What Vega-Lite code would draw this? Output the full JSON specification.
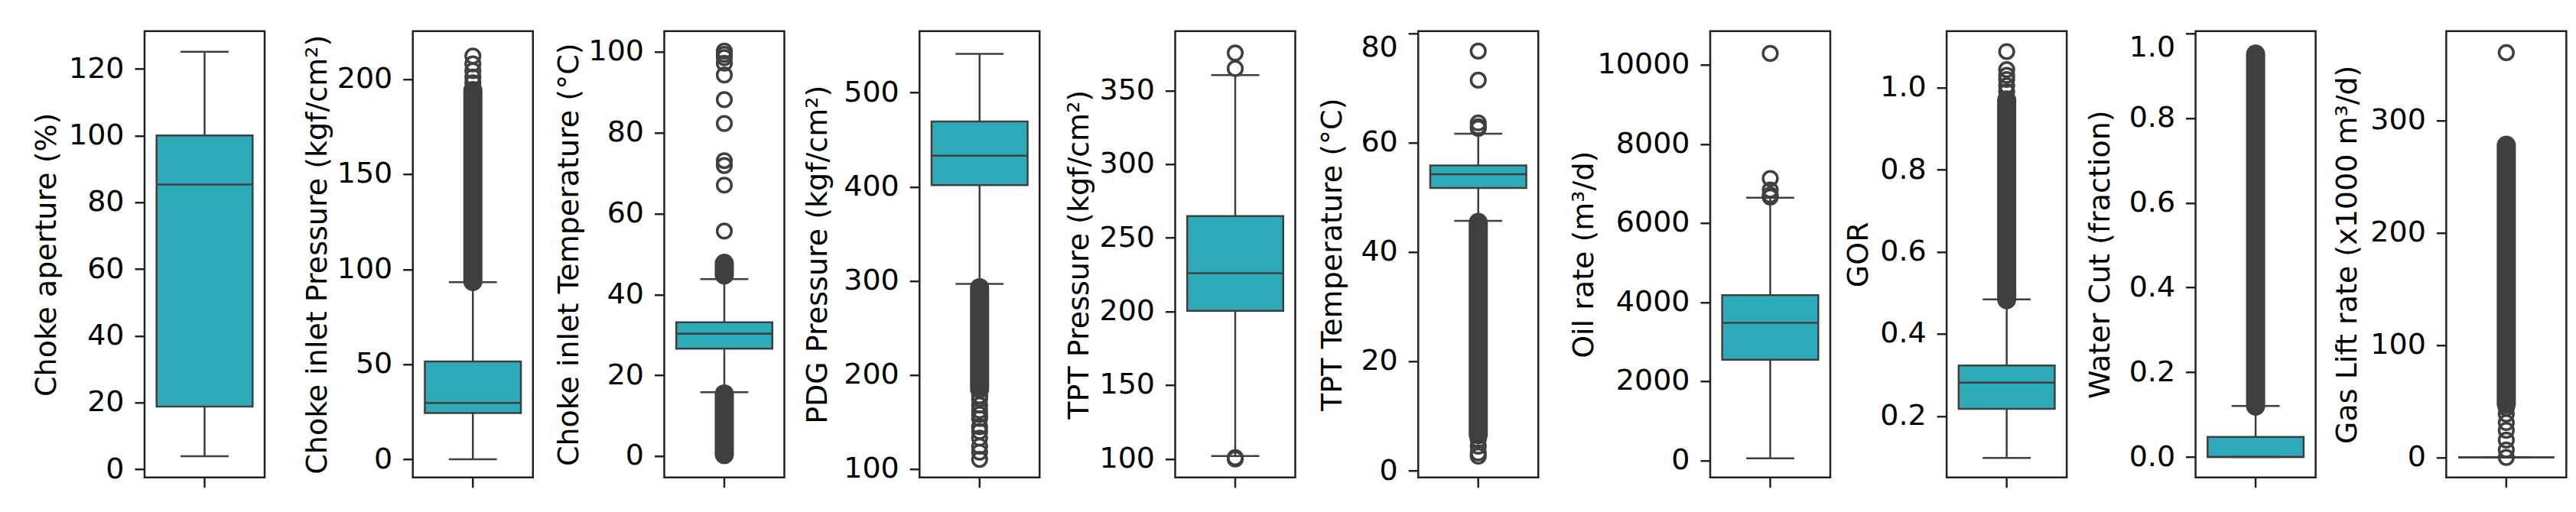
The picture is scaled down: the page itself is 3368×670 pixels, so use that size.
{
"$schema":"https://vega.github.io/schema/vega-lite/v6.json",
"background":"white",
"padding":{"left":40,"top":38.75,"right":5,"bottom":5},
"datasets":{
"boxes":[
{"var":"choke","q1":18.8,"med":85.3,"q3":100,"wlo":3.9,"whi":125.1},
{"var":"cip","q1":24.4,"med":29.7,"q3":51.5,"wlo":0,"whi":93.2},
{"var":"cit","q1":26.6,"med":30.3,"q3":33.1,"wlo":15.8,"whi":43.8},
{"var":"pdg","q1":401.7,"med":433,"q3":469.4,"wlo":296.7,"whi":541.2},
{"var":"tptp","q1":200.4,"med":225.9,"q3":264.7,"wlo":101.8,"whi":360.5},
{"var":"tptt","q1":51.7,"med":54.2,"q3":55.8,"wlo":45.7,"whi":61.6},
{"var":"oil","q1":2543,"med":3476,"q3":4178,"wlo":50,"whi":6640},
{"var":"gor","q1":0.2175,"med":0.281,"q3":0.323,"wlo":0.098,"whi":0.484},
{"var":"wc","q1":0,"med":0,"q3":0.0476,"wlo":0,"whi":0.1206},
{"var":"gl","q1":0,"med":0,"q3":0,"wlo":0,"whi":0}
],
"bands":[
{"var":"cip","lo":93.5,"hi":194},
{"var":"cit","lo":0.4,"hi":15.4},
{"var":"cit","lo":44.8,"hi":47.7},
{"var":"pdg","lo":185,"hi":292.8},
{"var":"tptt","lo":6.6,"hi":45.4},
{"var":"gor","lo":0.4836,"hi":0.97},
{"var":"wc","lo":0.1202,"hi":0.9506},
{"var":"gl","lo":47.5,"hi":277.9}
],
"points":[
{"var":"cip","v":198},{"var":"cip","v":201},{"var":"cip","v":204.4},{"var":"cip","v":208},{"var":"cip","v":212.1},
{"var":"cit","v":55.7},{"var":"cit","v":67.05},{"var":"cit","v":71.9},{"var":"cit","v":73.1},{"var":"cit","v":82.3},{"var":"cit","v":88.2},{"var":"cit","v":94.3},{"var":"cit","v":97.2},{"var":"cit","v":98.6},{"var":"cit","v":99.4},{"var":"cit","v":100.2},
{"var":"pdg","v":178},{"var":"pdg","v":174.5},{"var":"pdg","v":168},{"var":"pdg","v":162.4},{"var":"pdg","v":158},{"var":"pdg","v":153.7},{"var":"pdg","v":145},{"var":"pdg","v":140},{"var":"pdg","v":133},{"var":"pdg","v":124.3},{"var":"pdg","v":118},{"var":"pdg","v":110.4},
{"var":"tptp","v":375.5},{"var":"tptp","v":364.9},{"var":"tptp","v":100.7},{"var":"tptp","v":99.8},
{"var":"tptt","v":76.7},{"var":"tptt","v":71.4},{"var":"tptt","v":63.6},{"var":"tptt","v":62.9},{"var":"tptt","v":62.6},{"var":"tptt","v":5.7},{"var":"tptt","v":4.5},{"var":"tptt","v":3.3},{"var":"tptt","v":2.7},
{"var":"oil","v":10290},{"var":"oil","v":7127},{"var":"oil","v":6837},{"var":"oil","v":6713},{"var":"oil","v":6660},
{"var":"gor","v":0.99},{"var":"gor","v":1.005},{"var":"gor","v":1.02},{"var":"gor","v":1.03},{"var":"gor","v":1.044},{"var":"gor","v":1.088},
{"var":"gl","v":360.3},{"var":"gl","v":44},{"var":"gl","v":38.6},{"var":"gl","v":31},{"var":"gl","v":24.1},{"var":"gl","v":15.4},{"var":"gl","v":6.7},{"var":"gl","v":0}
]
},
"spacing":46.75,
"hconcat":[
{"width":157,"height":584,
"encoding":{"x":{"field":"var","type":"nominal","scale":{"type":"band","paddingInner":0,"paddingOuter":0},"axis":{"title":null,"labels":false,"domain":false,"ticks":true,"tickSize":13,"tickWidth":2.5,"tickColor":"#222","bandPosition":0.5}}},
"layer":[
{"data":{"name":"boxes"},"transform":[{"filter":"datum.var==='choke'"}],"mark":{"type":"rule","color":"#3f3f3f","strokeWidth":2.5},"encoding":{"y":{"field":"wlo","type":"quantitative","title":"Choke aperture (%)","scale":{"domain":[-2.45,131.28],"nice":false,"zero":false},"axis":{"values":[0,20,40,60,80,100,120],"format":"d","titleX":-117}},"y2":{"field":"whi"}}},
{"data":{"name":"boxes"},"transform":[{"filter":"datum.var==='choke'"}],"mark":{"type":"bar","width":{"band":0.8},"fill":"#2EABB8","stroke":"#3f3f3f","strokeWidth":2.5},"encoding":{"y":{"field":"q1","type":"quantitative","title":"Choke aperture (%)"},"y2":{"field":"q3"}}},
{"data":{"name":"boxes"},"transform":[{"filter":"datum.var==='choke'"},{"fold":["wlo","whi"],"as":["k","cap"]}],"mark":{"type":"tick","size":62.8,"thickness":2.5,"color":"#3f3f3f","opacity":1},"encoding":{"y":{"field":"cap","type":"quantitative","title":"Choke aperture (%)"}}},
{"data":{"name":"boxes"},"transform":[{"filter":"datum.var==='choke'"}],"mark":{"type":"tick","size":125.6,"thickness":2.5,"color":"#3f3f3f","opacity":1},"encoding":{"y":{"field":"med","type":"quantitative","title":"Choke aperture (%)"}}}
]},
{"spacing":24.75,"hconcat":[
{"width":157,"height":584,
"encoding":{"x":{"field":"var","type":"nominal","scale":{"type":"band","paddingInner":0,"paddingOuter":0},"axis":{"title":null,"labels":false,"domain":false,"ticks":true,"tickSize":13,"tickWidth":2.5,"tickColor":"#222","bandPosition":0.5}}},
"layer":[
{"data":{"name":"boxes"},"transform":[{"filter":"datum.var==='cip'"}],"mark":{"type":"rule","color":"#3f3f3f","strokeWidth":2.5},"encoding":{"y":{"field":"wlo","type":"quantitative","title":"Choke inlet Pressure (kgf/cm²)","scale":{"domain":[-9.5,225.2],"nice":false,"zero":false},"axis":{"values":[0,50,100,150,200],"format":"d","titleX":-113}},"y2":{"field":"whi"}}},
{"data":{"name":"boxes"},"transform":[{"filter":"datum.var==='cip'"}],"mark":{"type":"bar","width":{"band":0.8},"fill":"#2EABB8","stroke":"#3f3f3f","strokeWidth":2.5},"encoding":{"y":{"field":"q1","type":"quantitative","title":"Choke inlet Pressure (kgf/cm²)"},"y2":{"field":"q3"}}},
{"data":{"name":"boxes"},"transform":[{"filter":"datum.var==='cip'"},{"fold":["wlo","whi"],"as":["k","cap"]}],"mark":{"type":"tick","size":62.8,"thickness":2.5,"color":"#3f3f3f","opacity":1},"encoding":{"y":{"field":"cap","type":"quantitative","title":"Choke inlet Pressure (kgf/cm²)"}}},
{"data":{"name":"boxes"},"transform":[{"filter":"datum.var==='cip'"}],"mark":{"type":"tick","size":125.6,"thickness":2.5,"color":"#3f3f3f","opacity":1},"encoding":{"y":{"field":"med","type":"quantitative","title":"Choke inlet Pressure (kgf/cm²)"}}},
{"data":{"name":"bands"},"transform":[{"filter":"datum.var==='cip'"}],"mark":{"type":"rule","color":"#3f3f3f","strokeWidth":25,"strokeCap":"round"},"encoding":{"y":{"field":"lo","type":"quantitative","title":"Choke inlet Pressure (kgf/cm²)"},"y2":{"field":"hi"}}},
{"data":{"name":"points"},"transform":[{"filter":"datum.var==='cip'"}],"mark":{"type":"point","shape":"circle","filled":false,"size":350,"strokeWidth":3.5,"color":"#3f3f3f","opacity":1},"encoding":{"y":{"field":"v","type":"quantitative","title":"Choke inlet Pressure (kgf/cm²)"}}}
]},
{"spacing":21.75,"hconcat":[
{"width":157,"height":584,
"encoding":{"x":{"field":"var","type":"nominal","scale":{"type":"band","paddingInner":0,"paddingOuter":0},"axis":{"title":null,"labels":false,"domain":false,"ticks":true,"tickSize":13,"tickWidth":2.5,"tickColor":"#222","bandPosition":0.5}}},
"layer":[
{"data":{"name":"boxes"},"transform":[{"filter":"datum.var==='cit'"}],"mark":{"type":"rule","color":"#3f3f3f","strokeWidth":2.5},"encoding":{"y":{"field":"wlo","type":"quantitative","title":"Choke inlet Temperature (°C)","scale":{"domain":[-5.26,105.14],"nice":false,"zero":false},"axis":{"values":[0,20,40,60,80,100],"format":"d","titleX":-113}},"y2":{"field":"whi"}}},
{"data":{"name":"boxes"},"transform":[{"filter":"datum.var==='cit'"}],"mark":{"type":"bar","width":{"band":0.8},"fill":"#2EABB8","stroke":"#3f3f3f","strokeWidth":2.5},"encoding":{"y":{"field":"q1","type":"quantitative","title":"Choke inlet Temperature (°C)"},"y2":{"field":"q3"}}},
{"data":{"name":"boxes"},"transform":[{"filter":"datum.var==='cit'"},{"fold":["wlo","whi"],"as":["k","cap"]}],"mark":{"type":"tick","size":62.8,"thickness":2.5,"color":"#3f3f3f","opacity":1},"encoding":{"y":{"field":"cap","type":"quantitative","title":"Choke inlet Temperature (°C)"}}},
{"data":{"name":"boxes"},"transform":[{"filter":"datum.var==='cit'"}],"mark":{"type":"tick","size":125.6,"thickness":2.5,"color":"#3f3f3f","opacity":1},"encoding":{"y":{"field":"med","type":"quantitative","title":"Choke inlet Temperature (°C)"}}},
{"data":{"name":"bands"},"transform":[{"filter":"datum.var==='cit'"}],"mark":{"type":"rule","color":"#3f3f3f","strokeWidth":25,"strokeCap":"round"},"encoding":{"y":{"field":"lo","type":"quantitative","title":"Choke inlet Temperature (°C)"},"y2":{"field":"hi"}}},
{"data":{"name":"points"},"transform":[{"filter":"datum.var==='cit'"}],"mark":{"type":"point","shape":"circle","filled":false,"size":350,"strokeWidth":3.5,"color":"#3f3f3f","opacity":1},"encoding":{"y":{"field":"v","type":"quantitative","title":"Choke inlet Temperature (°C)"}}}
]},
{"spacing":29.25,"hconcat":[
{"width":157,"height":584,
"encoding":{"x":{"field":"var","type":"nominal","scale":{"type":"band","paddingInner":0,"paddingOuter":0},"axis":{"title":null,"labels":false,"domain":false,"ticks":true,"tickSize":13,"tickWidth":2.5,"tickColor":"#222","bandPosition":0.5}}},
"layer":[
{"data":{"name":"boxes"},"transform":[{"filter":"datum.var==='pdg'"}],"mark":{"type":"rule","color":"#3f3f3f","strokeWidth":2.5},"encoding":{"y":{"field":"wlo","type":"quantitative","title":"PDG Pressure (kgf/cm²)","scale":{"domain":[91.2,565.3],"nice":false,"zero":false},"axis":{"values":[100,200,300,400,500],"format":"d","titleX":-121.5}},"y2":{"field":"whi"}}},
{"data":{"name":"boxes"},"transform":[{"filter":"datum.var==='pdg'"}],"mark":{"type":"bar","width":{"band":0.8},"fill":"#2EABB8","stroke":"#3f3f3f","strokeWidth":2.5},"encoding":{"y":{"field":"q1","type":"quantitative","title":"PDG Pressure (kgf/cm²)"},"y2":{"field":"q3"}}},
{"data":{"name":"boxes"},"transform":[{"filter":"datum.var==='pdg'"},{"fold":["wlo","whi"],"as":["k","cap"]}],"mark":{"type":"tick","size":62.8,"thickness":2.5,"color":"#3f3f3f","opacity":1},"encoding":{"y":{"field":"cap","type":"quantitative","title":"PDG Pressure (kgf/cm²)"}}},
{"data":{"name":"boxes"},"transform":[{"filter":"datum.var==='pdg'"}],"mark":{"type":"tick","size":125.6,"thickness":2.5,"color":"#3f3f3f","opacity":1},"encoding":{"y":{"field":"med","type":"quantitative","title":"PDG Pressure (kgf/cm²)"}}},
{"data":{"name":"bands"},"transform":[{"filter":"datum.var==='pdg'"}],"mark":{"type":"rule","color":"#3f3f3f","strokeWidth":25,"strokeCap":"round"},"encoding":{"y":{"field":"lo","type":"quantitative","title":"PDG Pressure (kgf/cm²)"},"y2":{"field":"hi"}}},
{"data":{"name":"points"},"transform":[{"filter":"datum.var==='pdg'"}],"mark":{"type":"point","shape":"circle","filled":false,"size":350,"strokeWidth":3.5,"color":"#3f3f3f","opacity":1},"encoding":{"y":{"field":"v","type":"quantitative","title":"PDG Pressure (kgf/cm²)"}}}
]},
{"spacing":25.75,"hconcat":[
{"width":157,"height":584,
"encoding":{"x":{"field":"var","type":"nominal","scale":{"type":"band","paddingInner":0,"paddingOuter":0},"axis":{"title":null,"labels":false,"domain":false,"ticks":true,"tickSize":13,"tickWidth":2.5,"tickColor":"#222","bandPosition":0.5}}},
"layer":[
{"data":{"name":"boxes"},"transform":[{"filter":"datum.var==='tptp'"}],"mark":{"type":"rule","color":"#3f3f3f","strokeWidth":2.5},"encoding":{"y":{"field":"wlo","type":"quantitative","title":"TPT Pressure (kgf/cm²)","scale":{"domain":[87.3,390.3],"nice":false,"zero":false},"axis":{"values":[100,150,200,250,300,350],"format":"d","titleX":-114}},"y2":{"field":"whi"}}},
{"data":{"name":"boxes"},"transform":[{"filter":"datum.var==='tptp'"}],"mark":{"type":"bar","width":{"band":0.8},"fill":"#2EABB8","stroke":"#3f3f3f","strokeWidth":2.5},"encoding":{"y":{"field":"q1","type":"quantitative","title":"TPT Pressure (kgf/cm²)"},"y2":{"field":"q3"}}},
{"data":{"name":"boxes"},"transform":[{"filter":"datum.var==='tptp'"},{"fold":["wlo","whi"],"as":["k","cap"]}],"mark":{"type":"tick","size":62.8,"thickness":2.5,"color":"#3f3f3f","opacity":1},"encoding":{"y":{"field":"cap","type":"quantitative","title":"TPT Pressure (kgf/cm²)"}}},
{"data":{"name":"boxes"},"transform":[{"filter":"datum.var==='tptp'"}],"mark":{"type":"tick","size":125.6,"thickness":2.5,"color":"#3f3f3f","opacity":1},"encoding":{"y":{"field":"med","type":"quantitative","title":"TPT Pressure (kgf/cm²)"}}},
{"data":{"name":"points"},"transform":[{"filter":"datum.var==='tptp'"}],"mark":{"type":"point","shape":"circle","filled":false,"size":350,"strokeWidth":3.5,"color":"#3f3f3f","opacity":1},"encoding":{"y":{"field":"v","type":"quantitative","title":"TPT Pressure (kgf/cm²)"}}}
]},
{"spacing":37.75,"hconcat":[
{"width":157,"height":584,
"encoding":{"x":{"field":"var","type":"nominal","scale":{"type":"band","paddingInner":0,"paddingOuter":0},"axis":{"title":null,"labels":false,"domain":false,"ticks":true,"tickSize":13,"tickWidth":2.5,"tickColor":"#222","bandPosition":0.5}}},
"layer":[
{"data":{"name":"boxes"},"transform":[{"filter":"datum.var==='tptt'"}],"mark":{"type":"rule","color":"#3f3f3f","strokeWidth":2.5},"encoding":{"y":{"field":"wlo","type":"quantitative","title":"TPT Temperature (°C)","scale":{"domain":[-1.2,80.36],"nice":false,"zero":false},"axis":{"values":[0,20,40,60,80],"format":"d","titleX":-101,"labelFlush":5}},"y2":{"field":"whi"}}},
{"data":{"name":"boxes"},"transform":[{"filter":"datum.var==='tptt'"}],"mark":{"type":"bar","width":{"band":0.8},"fill":"#2EABB8","stroke":"#3f3f3f","strokeWidth":2.5},"encoding":{"y":{"field":"q1","type":"quantitative","title":"TPT Temperature (°C)"},"y2":{"field":"q3"}}},
{"data":{"name":"boxes"},"transform":[{"filter":"datum.var==='tptt'"},{"fold":["wlo","whi"],"as":["k","cap"]}],"mark":{"type":"tick","size":62.8,"thickness":2.5,"color":"#3f3f3f","opacity":1},"encoding":{"y":{"field":"cap","type":"quantitative","title":"TPT Temperature (°C)"}}},
{"data":{"name":"boxes"},"transform":[{"filter":"datum.var==='tptt'"}],"mark":{"type":"tick","size":125.6,"thickness":2.5,"color":"#3f3f3f","opacity":1},"encoding":{"y":{"field":"med","type":"quantitative","title":"TPT Temperature (°C)"}}},
{"data":{"name":"bands"},"transform":[{"filter":"datum.var==='tptt'"}],"mark":{"type":"rule","color":"#3f3f3f","strokeWidth":25,"strokeCap":"round"},"encoding":{"y":{"field":"lo","type":"quantitative","title":"TPT Temperature (°C)"},"y2":{"field":"hi"}}},
{"data":{"name":"points"},"transform":[{"filter":"datum.var==='tptt'"}],"mark":{"type":"point","shape":"circle","filled":false,"size":350,"strokeWidth":3.5,"color":"#3f3f3f","opacity":1},"encoding":{"y":{"field":"v","type":"quantitative","title":"TPT Temperature (°C)"}}}
]},
{"spacing":15.15,"hconcat":[
{"width":157,"height":584,
"encoding":{"x":{"field":"var","type":"nominal","scale":{"type":"band","paddingInner":0,"paddingOuter":0},"axis":{"title":null,"labels":false,"domain":false,"ticks":true,"tickSize":13,"tickWidth":2.5,"tickColor":"#222","bandPosition":0.5}}},
"layer":[
{"data":{"name":"boxes"},"transform":[{"filter":"datum.var==='oil'"}],"mark":{"type":"rule","color":"#3f3f3f","strokeWidth":2.5},"encoding":{"y":{"field":"wlo","type":"quantitative","title":"Oil rate (m³/d)","scale":{"domain":[-431,10854],"nice":false,"zero":false},"axis":{"values":[0,2000,4000,6000,8000,10000],"format":"d","titleX":-153.6}},"y2":{"field":"whi"}}},
{"data":{"name":"boxes"},"transform":[{"filter":"datum.var==='oil'"}],"mark":{"type":"bar","width":{"band":0.8},"fill":"#2EABB8","stroke":"#3f3f3f","strokeWidth":2.5},"encoding":{"y":{"field":"q1","type":"quantitative","title":"Oil rate (m³/d)"},"y2":{"field":"q3"}}},
{"data":{"name":"boxes"},"transform":[{"filter":"datum.var==='oil'"},{"fold":["wlo","whi"],"as":["k","cap"]}],"mark":{"type":"tick","size":62.8,"thickness":2.5,"color":"#3f3f3f","opacity":1},"encoding":{"y":{"field":"cap","type":"quantitative","title":"Oil rate (m³/d)"}}},
{"data":{"name":"boxes"},"transform":[{"filter":"datum.var==='oil'"}],"mark":{"type":"tick","size":125.6,"thickness":2.5,"color":"#3f3f3f","opacity":1},"encoding":{"y":{"field":"med","type":"quantitative","title":"Oil rate (m³/d)"}}},
{"data":{"name":"points"},"transform":[{"filter":"datum.var==='oil'"}],"mark":{"type":"point","shape":"circle","filled":false,"size":350,"strokeWidth":3.5,"color":"#3f3f3f","opacity":1},"encoding":{"y":{"field":"v","type":"quantitative","title":"Oil rate (m³/d)"}}}
]},
{"spacing":22.45,"hconcat":[
{"width":157,"height":584,
"encoding":{"x":{"field":"var","type":"nominal","scale":{"type":"band","paddingInner":0,"paddingOuter":0},"axis":{"title":null,"labels":false,"domain":false,"ticks":true,"tickSize":13,"tickWidth":2.5,"tickColor":"#222","bandPosition":0.5}}},
"layer":[
{"data":{"name":"boxes"},"transform":[{"filter":"datum.var==='gor'"}],"mark":{"type":"rule","color":"#3f3f3f","strokeWidth":2.5},"encoding":{"y":{"field":"wlo","type":"quantitative","title":"GOR","scale":{"domain":[0.0503,1.1378],"nice":false,"zero":false},"axis":{"values":[0.2,0.4,0.6,0.8,1.0],"format":".1f","titleX":-103.7}},"y2":{"field":"whi"}}},
{"data":{"name":"boxes"},"transform":[{"filter":"datum.var==='gor'"}],"mark":{"type":"bar","width":{"band":0.8},"fill":"#2EABB8","stroke":"#3f3f3f","strokeWidth":2.5},"encoding":{"y":{"field":"q1","type":"quantitative","title":"GOR"},"y2":{"field":"q3"}}},
{"data":{"name":"boxes"},"transform":[{"filter":"datum.var==='gor'"},{"fold":["wlo","whi"],"as":["k","cap"]}],"mark":{"type":"tick","size":62.8,"thickness":2.5,"color":"#3f3f3f","opacity":1},"encoding":{"y":{"field":"cap","type":"quantitative","title":"GOR"}}},
{"data":{"name":"boxes"},"transform":[{"filter":"datum.var==='gor'"}],"mark":{"type":"tick","size":125.6,"thickness":2.5,"color":"#3f3f3f","opacity":1},"encoding":{"y":{"field":"med","type":"quantitative","title":"GOR"}}},
{"data":{"name":"bands"},"transform":[{"filter":"datum.var==='gor'"}],"mark":{"type":"rule","color":"#3f3f3f","strokeWidth":25,"strokeCap":"round"},"encoding":{"y":{"field":"lo","type":"quantitative","title":"GOR"},"y2":{"field":"hi"}}},
{"data":{"name":"points"},"transform":[{"filter":"datum.var==='gor'"}],"mark":{"type":"point","shape":"circle","filled":false,"size":350,"strokeWidth":3.5,"color":"#3f3f3f","opacity":1},"encoding":{"y":{"field":"v","type":"quantitative","title":"GOR"}}}
]},
{"spacing":18.75,"hconcat":[
{"width":157,"height":584,
"encoding":{"x":{"field":"var","type":"nominal","scale":{"type":"band","paddingInner":0,"paddingOuter":0},"axis":{"title":null,"labels":false,"domain":false,"ticks":true,"tickSize":13,"tickWidth":2.5,"tickColor":"#222","bandPosition":0.5}}},
"layer":[
{"data":{"name":"boxes"},"transform":[{"filter":"datum.var==='wc'"}],"mark":{"type":"rule","color":"#3f3f3f","strokeWidth":2.5},"encoding":{"y":{"field":"wlo","type":"quantitative","title":"Water Cut (fraction)","scale":{"domain":[-0.048,1.0047],"nice":false,"zero":false},"axis":{"values":[0,0.2,0.4,0.6,0.8,1.0],"format":".1f","titleX":-112.6,"labelFlush":5}},"y2":{"field":"whi"}}},
{"data":{"name":"boxes"},"transform":[{"filter":"datum.var==='wc'"}],"mark":{"type":"bar","width":{"band":0.8},"fill":"#2EABB8","stroke":"#3f3f3f","strokeWidth":2.5},"encoding":{"y":{"field":"q1","type":"quantitative","title":"Water Cut (fraction)"},"y2":{"field":"q3"}}},
{"data":{"name":"boxes"},"transform":[{"filter":"datum.var==='wc'"},{"fold":["wlo","whi"],"as":["k","cap"]}],"mark":{"type":"tick","size":62.8,"thickness":2.5,"color":"#3f3f3f","opacity":1},"encoding":{"y":{"field":"cap","type":"quantitative","title":"Water Cut (fraction)"}}},
{"data":{"name":"boxes"},"transform":[{"filter":"datum.var==='wc'"}],"mark":{"type":"tick","size":125.6,"thickness":2.5,"color":"#3f3f3f","opacity":1},"encoding":{"y":{"field":"med","type":"quantitative","title":"Water Cut (fraction)"}}},
{"data":{"name":"bands"},"transform":[{"filter":"datum.var==='wc'"}],"mark":{"type":"rule","color":"#3f3f3f","strokeWidth":25,"strokeCap":"round"},"encoding":{"y":{"field":"lo","type":"quantitative","title":"Water Cut (fraction)"},"y2":{"field":"hi"}}}
]},
{"width":157,"height":584,
"encoding":{"x":{"field":"var","type":"nominal","scale":{"type":"band","paddingInner":0,"paddingOuter":0},"axis":{"title":null,"labels":false,"domain":false,"ticks":true,"tickSize":13,"tickWidth":2.5,"tickColor":"#222","bandPosition":0.5}}},
"layer":[
{"data":{"name":"boxes"},"transform":[{"filter":"datum.var==='gl'"}],"mark":{"type":"rule","color":"#3f3f3f","strokeWidth":2.5},"encoding":{"y":{"field":"wlo","type":"quantitative","title":"Gas Lift rate (x1000 m³/d)","scale":{"domain":[-17.8,379.5],"nice":false,"zero":false},"axis":{"values":[0,100,200,300],"format":"d","titleX":-118}},"y2":{"field":"whi"}}},
{"data":{"name":"boxes"},"transform":[{"filter":"datum.var==='gl'"}],"mark":{"type":"bar","width":{"band":0.8},"fill":"#2EABB8","stroke":"#3f3f3f","strokeWidth":2.5},"encoding":{"y":{"field":"q1","type":"quantitative","title":"Gas Lift rate (x1000 m³/d)"},"y2":{"field":"q3"}}},
{"data":{"name":"boxes"},"transform":[{"filter":"datum.var==='gl'"},{"fold":["wlo","whi"],"as":["k","cap"]}],"mark":{"type":"tick","size":62.8,"thickness":2.5,"color":"#3f3f3f","opacity":1},"encoding":{"y":{"field":"cap","type":"quantitative","title":"Gas Lift rate (x1000 m³/d)"}}},
{"data":{"name":"boxes"},"transform":[{"filter":"datum.var==='gl'"}],"mark":{"type":"tick","size":125.6,"thickness":2.5,"color":"#3f3f3f","opacity":1},"encoding":{"y":{"field":"med","type":"quantitative","title":"Gas Lift rate (x1000 m³/d)"}}},
{"data":{"name":"bands"},"transform":[{"filter":"datum.var==='gl'"}],"mark":{"type":"rule","color":"#3f3f3f","strokeWidth":25,"strokeCap":"round"},"encoding":{"y":{"field":"lo","type":"quantitative","title":"Gas Lift rate (x1000 m³/d)"},"y2":{"field":"hi"}}},
{"data":{"name":"points"},"transform":[{"filter":"datum.var==='gl'"}],"mark":{"type":"point","shape":"circle","filled":false,"size":350,"strokeWidth":3.5,"color":"#3f3f3f","opacity":1},"encoding":{"y":{"field":"v","type":"quantitative","title":"Gas Lift rate (x1000 m³/d)"}}}
]}
]}
]}
]}
]}
]}
]}
]}
]}
],
"config":{
"font":"DejaVu Sans",
"view":{"stroke":"#222","strokeWidth":2.5},
"axis":{"grid":false,"domain":false,"labelFont":"DejaVu Sans","titleFont":"DejaVu Sans","labelFontSize":38,"titleFontSize":38,"titleFontWeight":"normal","labelColor":"#000","titleColor":"#000","tickColor":"#222","tickWidth":2.5,"tickSize":13,"labelPadding":14},
"axisY":{"titleBaseline":"alphabetic"}
}
}
